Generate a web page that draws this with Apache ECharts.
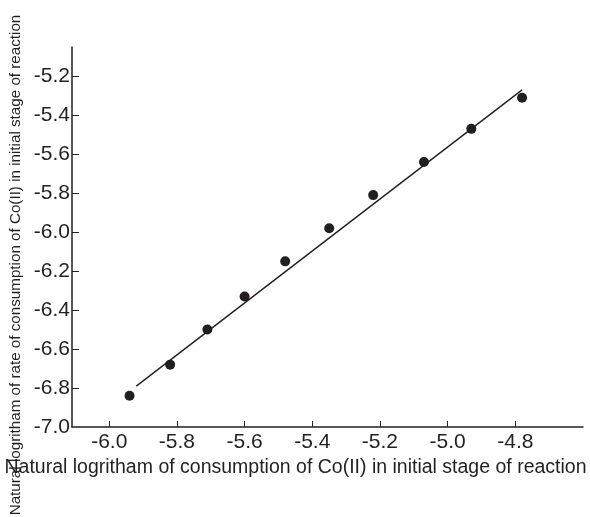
<!DOCTYPE html>
<html>
<head>
<meta charset="utf-8">
<script src="https://cdn.jsdelivr.net/npm/echarts@6/dist/echarts.min.js"></script>
<style>
  html, body { margin: 0; padding: 0; background: #fff; }
  #main { width: 590px; height: 517px; }
</style>
</head>
<body>
<div id="main"></div>
<script>
// measured points: ln[Co(II)] vs ln(rate)
var lnConc = [-5.94, -5.82, -5.71, -5.60, -5.48, -5.35, -5.22, -5.07, -4.93, -4.78];
var lnRate = [-6.84, -6.68, -6.50, -6.33, -6.15, -5.98, -5.81, -5.64, -5.47, -5.31];

// fitted straight line (two ends)
var fitX = [-5.92, -4.78];
var fitY = [-6.79, -5.27];

var xTicks = [-6.0, -5.8, -5.6, -5.4, -5.2, -5.0, -4.8];
var yTicks = [-7.0, -6.8, -6.6, -6.4, -6.2, -6.0, -5.8, -5.6, -5.4, -5.2];

var ink = '#231f20';

var myChart = echarts.init(document.getElementById('main'));

var option = {
    animation: false,
    textStyle: { fontFamily: 'Liberation Sans, Arial, sans-serif' },
    grid: { left: 72, top: 47, right: 7, bottom: 90, outerBoundsMode: 'none', containLabel: false },
    xAxis: {
        type: 'value',
        min: -6.11,
        max: -4.6,
        name: 'Natural logritham of consumption of Co(II) in initial stage of reaction',
        nameLocation: 'middle',
        nameGap: 29,
        nameTextStyle: { fontSize: 19.5, color: ink, padding: [0, 64, 0, 0] },
        axisLine: { lineStyle: { color: ink, width: 1.5 } },
        axisTick: { inside: true, length: 6, lineStyle: { color: ink }, customValues: xTicks },
        axisLabel: {
            fontSize: 21, color: ink, margin: 5,
            customValues: xTicks,
            formatter: function (v) { return v.toFixed(1); }
        },
        splitLine: { show: false }
    },
    yAxis: {
        type: 'value',
        min: -7.0,
        max: -5.05,
        name: 'Natural logritham of rate of consumption of Co(II) in initial stage of reaction',
        nameLocation: 'middle',
        nameGap: 39,
        nameTextStyle: { fontSize: 15.2, color: ink, padding: [0, 56, 0, 0] },
        axisLine: { lineStyle: { color: ink, width: 1.5 } },
        axisTick: { inside: true, length: 7, lineStyle: { color: ink }, customValues: yTicks.slice(1) },
        axisLabel: {
            fontSize: 21, color: ink, margin: 2,
            customValues: yTicks,
            formatter: function (v) { return v.toFixed(1); }
        },
        splitLine: { show: false }
    },
    series: [
        {
            type: 'line',
            data: fitX.map(function (x, i) { return [x, fitY[i]]; }),
            showSymbol: false,
            lineStyle: { color: ink, width: 1.4 }
        },
        {
            type: 'scatter',
            data: lnConc.map(function (x, i) { return [x, lnRate[i]]; }),
            symbolSize: 10,
            itemStyle: { color: ink, opacity: 1 }
        }
    ]
};

myChart.setOption(option);
</script>
</body>
</html>
